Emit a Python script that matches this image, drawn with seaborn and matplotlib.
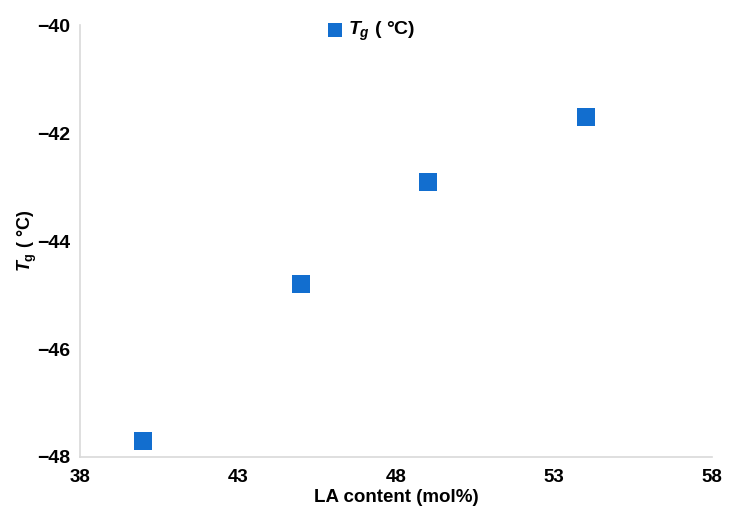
import matplotlib
matplotlib.use("Agg")
import matplotlib.pyplot as plt
import seaborn as sns
import pandas as pd

# data
la_content = [40, 45, 49, 54]
tg_values = [-47.7, -44.8, -42.9, -41.7]
x_ticks = [38, 43, 48, 53, 58]
y_ticks = [-48, -46, -44, -42, -40]

sns.set_style("white")
plt.rcParams['font.family'] = ['Liberation Sans', 'DejaVu Sans']
plt.rcParams['text.color'] = 'black'
plt.rcParams['axes.labelcolor'] = 'black'
plt.rcParams['xtick.color'] = 'black'
plt.rcParams['ytick.color'] = 'black'
plt.rcParams['mathtext.fontset'] = 'custom'
plt.rcParams['mathtext.rm'] = 'Liberation Sans:bold'
plt.rcParams['mathtext.it'] = 'Liberation Sans:italic:bold'
plt.rcParams['mathtext.bf'] = 'Liberation Sans:bold'

df = pd.DataFrame({"LA": la_content, "Tg": tg_values})

fig = plt.figure(figsize=(7.29, 5.14), dpi=100)
ax = fig.add_axes([0.11, 0.111, 0.867, 0.84])

sns.scatterplot(data=df, x="LA", y="Tg", marker="s", s=150, color="#126ecf",
                edgecolor="#126ecf", linewidth=0, ax=ax, label=r"$T_g$ ( °C)")

ax.set_xlim(x_ticks[0], x_ticks[-1])
ax.set_ylim(y_ticks[0], y_ticks[-1])
ax.set_xticks(x_ticks)
ax.set_yticks(y_ticks)
ax.set_xticklabels([str(v) for v in x_ticks], fontsize=13.5, fontweight='bold')
ax.set_yticklabels(["\u2212" + str(abs(v)) for v in y_ticks], fontsize=14, fontweight='bold')
ax.tick_params(axis='x', length=0, pad=9)
ax.tick_params(axis='y', length=0, pad=7)

ax.set_xlabel("LA content (mol%)", fontsize=13.5, fontweight='bold', labelpad=2)
ax.set_ylabel(r"$T_{\mathrm{g}}$ ( °C)", fontsize=13, fontweight='bold', labelpad=-1)

for side in ["top", "right"]:
    ax.spines[side].set_visible(False)
for side in ["left", "bottom"]:
    ax.spines[side].set_color("#d9d9d9")
    ax.spines[side].set_linewidth(1.2)

leg = ax.legend(loc="center left", bbox_to_anchor=(0.375, 0.986), frameon=False,
                fontsize=14, handlelength=1.0, handletextpad=0.2,
                borderaxespad=0, markerscale=0.85)
for t in leg.get_texts():
    t.set_fontweight('bold')

fig.savefig("out.png", dpi=100)
